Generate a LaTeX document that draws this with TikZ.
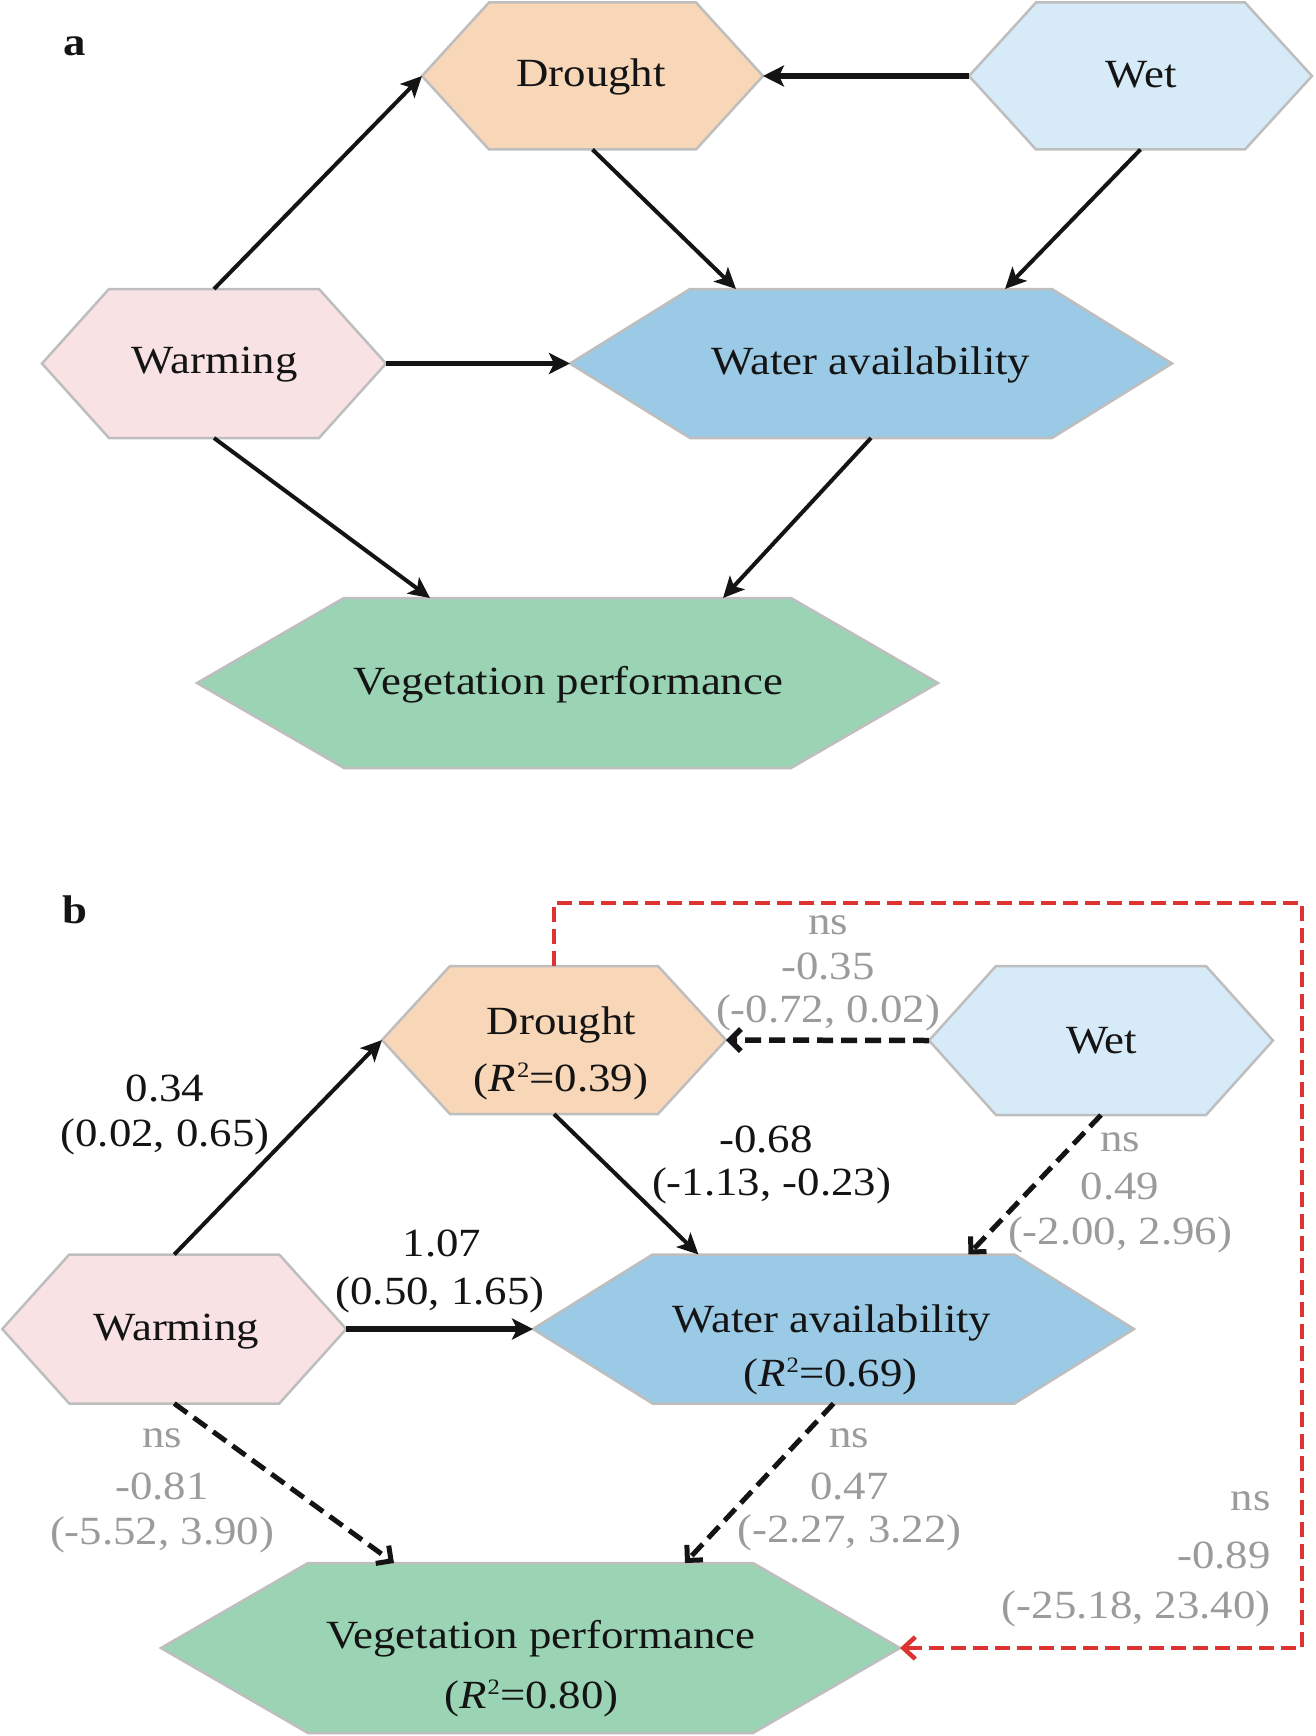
\documentclass[tikz,border=0pt]{standalone}
\usepackage{fontspec}
\setmainfont{Liberation Serif}[FakeStretch=1.12]
\usetikzlibrary{arrows.meta,calc}
\definecolor{hexgray}{RGB}{190,190,190}
\definecolor{cDrought}{RGB}{248,214,184}
\definecolor{cWet}{RGB}{214,234,248}
\definecolor{cWarm}{RGB}{249,226,228}
\definecolor{cWater}{RGB}{155,202,230}
\definecolor{cVeg}{RGB}{155,212,180}
\definecolor{labgray}{RGB}{155,155,155}
\definecolor{redc}{RGB}{221,52,50}
\definecolor{inkc}{RGB}{20,20,20}
\newcommand\nfont{\fontsize{40}{48}\selectfont}
% one text line: #1 horizontal shift, #2 raise, #3 text (centred, zero size)
\newcommand\tline[3]{\raisebox{#2}[0pt][0pt]{\hbox to 0pt{\hss\kern#1\relax#3\kern-#1\relax\hss}}}
% right-aligned text line: #1 raise, #2 text
\newcommand\rline[2]{\raisebox{#1}[0pt][0pt]{\hbox to 0pt{\hss#2}}}
\newcommand\Rsq[1]{(\textit{R}\kern1pt\raisebox{14pt}{\fontsize{22}{22}\selectfont 2}=#1)}
% hexagon: #1 name, #2 cx, #3 cy, #4 half width, #5 inset, #6 half height, #7 fill, #8 content
\newcommand\hexa[8]{%
  \filldraw[hexline, fill=#7] ({#2-#4},#3) -- ({#2-#4+#5},{#3-#6}) -- ({#2+#4-#5},{#3-#6})
     -- ({#2+#4},#3) -- ({#2+#4-#5},{#3+#6}) -- ({#2-#4+#5},{#3+#6}) -- cycle;
  \node[hexbox, minimum width={2*#4pt}, minimum height={2*#6pt}] (#1) at (#2,#3) {#8};
}
\begin{document}
\begin{tikzpicture}[x=1pt,y=-1pt,
  every node/.style={font=\nfont, text=inkc},
  hexline/.style={draw=hexgray, line width=2.5pt, line join=miter},
  hexbox/.style={inner sep=0pt, outer sep=0pt},
  lab/.style={inner sep=0pt, outer sep=0pt},
  glab/.style={inner sep=0pt, outer sep=0pt, text=labgray},
  solidarr/.style={draw=inkc, line width=4pt, -{Stealth[length=21pt,width=20pt,inset=5pt]}},
  thickarr/.style={draw=inkc, line width=5.5pt, -{Stealth[length=21pt,width=21pt,inset=5pt]}},
  dasharr/.style={draw=inkc, line width=5pt, dash pattern=on 16pt off 8pt, -{Straight Barb[length=11pt,width=22pt]}},
  dasharrh/.style={draw=inkc, line width=5.5pt, dash pattern=on 16pt off 8pt, -{Straight Barb[length=11pt,width=22pt]}},
  redarr/.style={draw=redc, line width=4.5pt, dash pattern=on 15pt off 7pt, -{Straight Barb[length=12pt,width=22pt]}}
]
\useasboundingbox (0,0) rectangle (1315,1736);

% ---------------- panel a ----------------
\node[inner sep=0pt, anchor=base, font=\nfont\bfseries] (pa) at (74.5,56) {a};

\hexa{dA}{592.5}{76}{170.5}{67}{73.5}{cDrought}{\tline{-1.5pt}{-11pt}{Drought}}
\hexa{wetA}{1140.5}{76}{171.5}{67}{73.5}{cWet}{\tline{0.5pt}{-12pt}{Wet}}
\hexa{wA}{214}{363.5}{172}{67}{74.5}{cWarm}{\tline{0.7pt}{-10pt}{Warming}}
\hexa{waA}{871}{363.5}{301}{120}{74.5}{cWater}{\tline{0pt}{-10.5pt}{Water availability}}
\hexa{vA}{567.5}{683}{370.5}{147}{85}{cVeg}{\tline{1pt}{-11pt}{Vegetation performance}}

\draw[solidarr] (wA.north) -- (dA.west);
\draw[thickarr] (wetA.west) -- (dA.east);
\draw[solidarr] (dA.south) -- ($(waA.north)+(-135,0)$);
\draw[solidarr] (wetA.south) -- ($(waA.north)+(134,0)$);
\draw[thickarr] (wA.east) -- (waA.west);
\draw[solidarr] (wA.south) -- ($(vA.north)+(-137.5,0)$);
\draw[solidarr] (waA.south) -- ($(vA.north)+(155.5,0)$);

% ---------------- panel b ----------------
\node[inner sep=0pt, anchor=base, font=\nfont\bfseries] (pb) at (74.5,923) {b};

\hexa{dB}{554}{1040}{172}{68}{74}{cDrought}{\tline{7.5pt}{5.7pt}{Drought}\tline{7pt}{-51.7pt}{\Rsq{0.39}}}
\hexa{wetB}{1101}{1040.5}{172}{67}{74.5}{cWet}{\tline{0.6pt}{-13pt}{Wet}}
\hexa{wB}{174.25}{1329}{172}{67}{74.5}{cWarm}{\tline{2pt}{-11pt}{Warming}}
\hexa{waB}{833.5}{1329}{300.5}{119.5}{74.5}{cWater}{\tline{-1.5pt}{-3.3pt}{Water availability}\tline{-3pt}{-57.7pt}{\Rsq{0.69}}}
\hexa{vB}{530.5}{1648}{369.5}{147}{85}{cVeg}{\tline{10.3pt}{-0.3pt}{Vegetation performance}\tline{1pt}{-60.3pt}{\Rsq{0.80}}}

\draw[solidarr] (wB.north) -- (dB.west);
\draw[dasharrh] (wetB.west) -- (dB.east);
\draw[solidarr] (dB.south) -- ($(waB.north)+(-135,0)$);
\draw[dasharr] (wetB.south) -- ($(waB.north)+(135,0)$);
\draw[thickarr] (wB.east) -- (waB.west);
\draw[dasharr] (wB.south) -- ($(vB.north)+(-136.5,0)$);
\draw[dasharr] (waB.south) -- ($(vB.north)+(154.5,0)$);
\coordinate (rc) at (1302,903);
\draw[redarr] (dB.north) |- (rc) |- (vB.east);

% path labels
\node[lab] (l034) at (165,1101) {\tline{0pt}{0pt}{0.34}\tline{0pt}{-45pt}{(0.02, 0.65)}};
\node[lab] (l068) at (769,1152.5) {\tline{-3pt}{0pt}{-0.68}\tline{2.5pt}{-42.5pt}{(-1.13, -0.23)}};
\node[lab] (l107) at (441,1256.5) {\tline{1pt}{0pt}{1.07}\tline{-1pt}{-47.5pt}{(0.50, 1.65)}};
\node[glab] (l035) at (828,934) {\tline{0pt}{0pt}{ns}\tline{0pt}{-45.5pt}{-0.35}\tline{0pt}{-88pt}{(-0.72, 0.02)}};
\node[glab] (l049) at (1120,1151) {\tline{0pt}{0pt}{ns}\tline{0pt}{-48.5pt}{0.49}\tline{0pt}{-93pt}{(-2.00, 2.96)}};
\node[glab] (l081) at (162,1447) {\tline{0pt}{0pt}{ns}\tline{0pt}{-52.5pt}{-0.81}\tline{0pt}{-97pt}{(-5.52, 3.90)}};
\node[glab] (l047) at (849.5,1447) {\tline{0pt}{0pt}{ns}\tline{0pt}{-52.5pt}{0.47}\tline{0pt}{-95pt}{(-2.27, 3.22)}};
\node[glab] (l089) at (1270.6,1510) {\rline{0pt}{ns}\rline{-58.5pt}{-0.89}\rline{-108pt}{(-25.18, 23.40)}};
\end{tikzpicture}
\end{document}
